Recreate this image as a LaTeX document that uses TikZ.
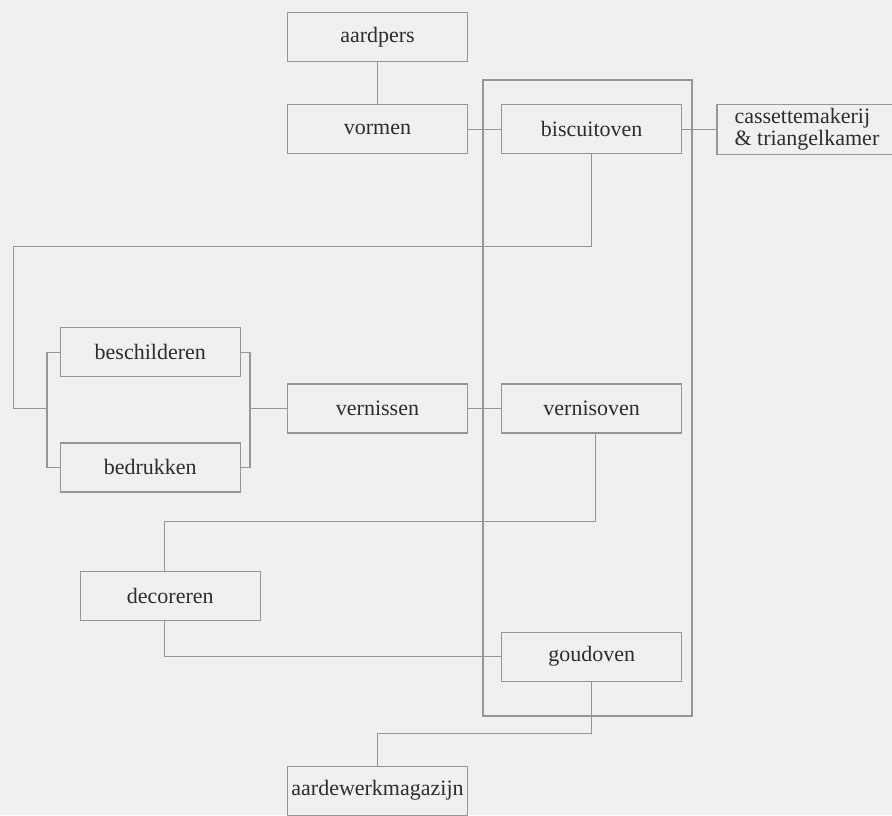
\documentclass[tikz,border=0pt]{standalone}
\usepackage{fontspec}
\setmainfont{Liberation Serif}
\usepackage{xcolor}
\usepackage{tikz}
\usetikzlibrary{positioning}

\definecolor{paper}{RGB}{240,240,240}
\definecolor{wire}{RGB}{150,150,150}
\definecolor{ink}{RGB}{45,45,45}

\begin{document}
\begin{tikzpicture}[x=0.5pt, y=-0.5pt,
    station/.style={draw=wire, line width=0.6pt, minimum width=90pt,
        minimum height=24.5pt, inner sep=2pt, text=ink,
        font=\fontsize{11}{9.5}\selectfont},
    flow/.style={draw=wire, line width=0.6pt}]
    \fill[paper] (0,0) rectangle (892,815);
    \useasboundingbox (0,0) rectangle (892,815);

    \node (aardpers) [station] at (377.5,37) {aardpers};
    \node (vormen) [station, below = 21pt of aardpers] {vormen};
    \node (biscuitoven) [station, right = 16.5pt of vormen] {biscuitoven};
    \node (cassette) [station, align=left, right = 17pt of biscuitoven] {cassettemakerij\\\& triangelkamer};
    \node (vernissen) [station, below = 114.5pt of vormen] {vernissen};
    \node (vernisoven) [station, right = 16.5pt of vernissen] {vernisoven};
    \node (beschilderen) [station, above left = 3pt and 23pt of vernissen] {beschilderen};
    \node (bedrukken) [station, below = 32.5pt of beschilderen] {bedrukken};
    \node (decoreren) [station, below = 39pt of bedrukken, xshift=10pt] {decoreren};
    \node (goudoven) [station, below = 99pt of vernisoven] {goudoven};
    \node (magazijn) [station, below = 166pt of vernissen] {aardewerkmagazijn};

    % ovenloop
    \coordinate (loopNW) at (483,80);
    \coordinate (loopSE) at (692,716);
    \draw[flow] (loopNW) rectangle (loopSE);

    \coordinate (splitL) at ([xshift=-120pt]vernissen.west);
    \coordinate (splitR) at ([xshift=-18.5pt]vernissen.west);

    \draw[flow] (aardpers) -- (vormen);
    \draw[flow] (vormen) -- (biscuitoven);
    \draw[flow] (biscuitoven) -- (cassette);
    \draw[flow] (biscuitoven.south) |- ++(-578,92) |- (splitL);
    \draw[flow] (beschilderen.west) -| (splitL) |- (bedrukken.west);
    \draw[flow] (beschilderen.east) -| (splitR) |- (bedrukken.east);
    \draw[flow] (splitR) -- (vernissen);
    \draw[flow] (vernissen) -- (vernisoven);
    \draw[flow] ([xshift=2pt]vernisoven.south) -- ++(0,88) -| ([xshift=-3pt]decoreren.north);
    \draw[flow] ([xshift=-3pt]decoreren.south) |- (goudoven.west);
    \draw[flow] (goudoven.south) -- ++(0,52) -| (magazijn.north);
\end{tikzpicture}
\end{document}
